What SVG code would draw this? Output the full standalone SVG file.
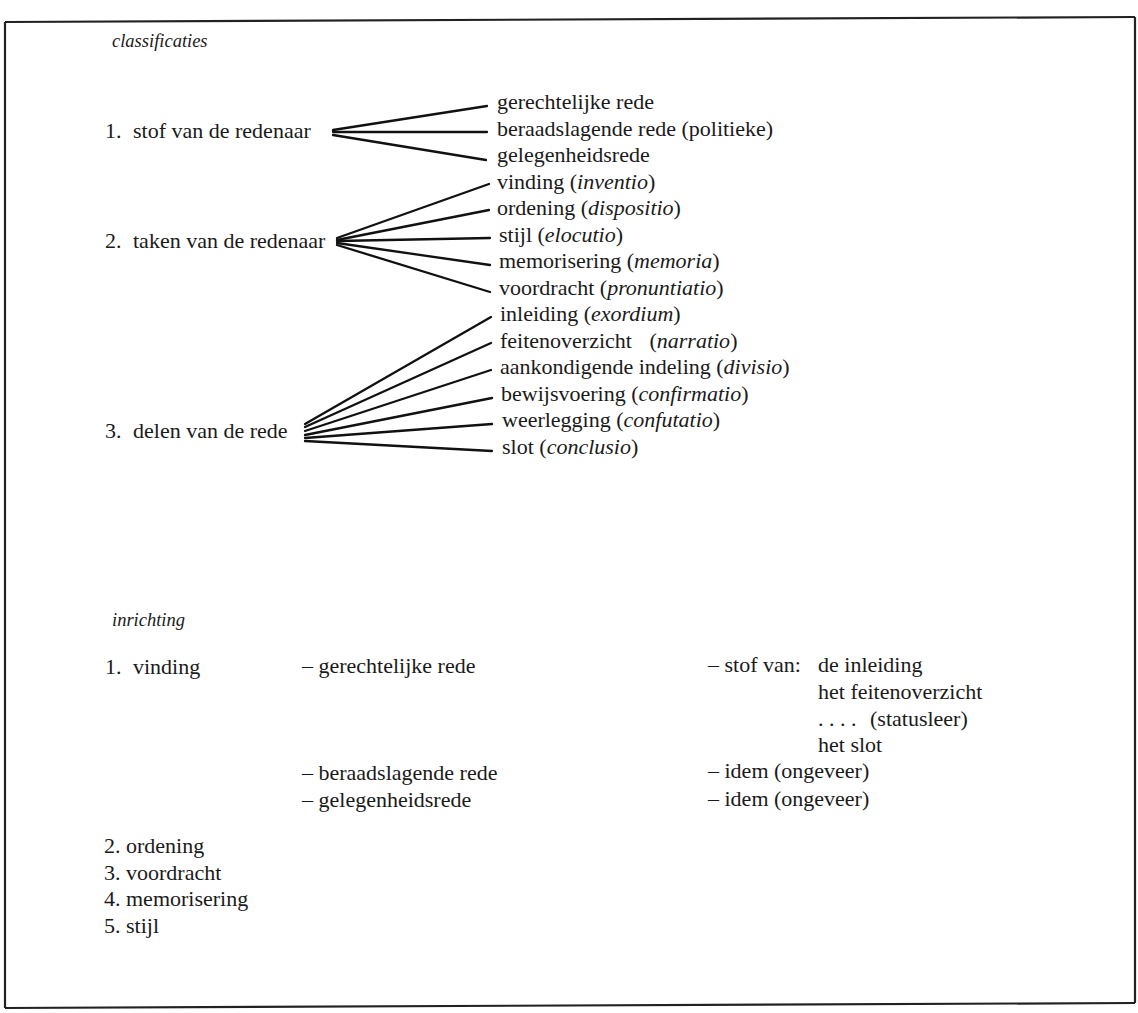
<svg xmlns="http://www.w3.org/2000/svg" width="1138" height="1013" viewBox="0 0 1138 1013">
<style>
text{font-family:"Liberation Serif","Times New Roman",serif;font-size:22px;fill:#1a1a1a}
.h{font-style:italic;font-size:18.5px}
.i{font-style:italic}
.c line{stroke:#111;stroke-width:2.3;stroke-linecap:round}
.frame{fill:none;stroke:#222;stroke-width:2.2}
</style>
<rect width="1138" height="1013" fill="#fff"/>
<g id="frame" class="frame">
<path d="M5,22 L1135,17"/>
<path d="M5,22 L5,1008"/>
<path d="M5,1008 L1135,1003"/>
<path d="M1135,17 L1135,1003"/>
</g>
<text id="h1" class="h" x="112" y="47">classificaties</text>
<g id="n1"><text x="105" y="138">1.</text><text x="133" y="138">stof van de redenaar</text></g>
<g id="n2"><text x="105" y="248">2.</text><text x="133" y="248">taken van de redenaar</text></g>
<g id="n3"><text x="105" y="438">3.</text><text x="133" y="438">delen van de rede</text></g>
<g id="r1"><text x="497" y="109">gerechtelijke rede</text></g>
<g id="r2"><text x="497" y="135.5">beraadslagende rede (politieke)</text></g>
<g id="r3"><text x="497" y="162">gelegenheidsrede</text></g>
<g id="r4"><text x="497" y="188.5">vinding (<tspan class="i">inventio</tspan>)</text></g>
<g id="r5"><text x="497" y="215">ordening (<tspan class="i">dispositio</tspan>)</text></g>
<g id="r6"><text x="499" y="241.5">stijl (<tspan class="i">elocutio</tspan>)</text></g>
<g id="r7"><text x="499" y="268">memorisering (<tspan class="i">memoria</tspan>)</text></g>
<g id="r8"><text x="499" y="294.5">voordracht (<tspan class="i">pronuntiatio</tspan>)</text></g>
<g id="r9"><text x="500" y="321">inleiding (<tspan class="i">exordium</tspan>)</text></g>
<g id="r10"><text x="500" y="347.5">feitenoverzicht <tspan dx="12">(</tspan><tspan class="i">narratio</tspan>)</text></g>
<g id="r11"><text x="500" y="374">aankondigende indeling (<tspan class="i">divisio</tspan>)</text></g>
<g id="r12"><text x="501" y="400.5">bewijsvoering (<tspan class="i">confirmatio</tspan>)</text></g>
<g id="r13"><text x="502" y="427">weerlegging (<tspan class="i">confutatio</tspan>)</text></g>
<g id="r14"><text x="502" y="453.5">slot (<tspan class="i">conclusio</tspan>)</text></g>
<g id="connectors" class="c">
<line x1="333" y1="130" x2="487" y2="106"/>
<line x1="333" y1="132" x2="487" y2="132"/>
<line x1="333" y1="135" x2="486" y2="160"/>
<line x1="337" y1="238" x2="489" y2="184"/>
<line x1="337" y1="240" x2="489" y2="210"/>
<line x1="337" y1="241" x2="490" y2="238"/>
<line x1="337" y1="243" x2="490" y2="265"/>
<line x1="337" y1="245" x2="490" y2="292"/>
<line x1="305" y1="424" x2="491" y2="317"/>
<line x1="305" y1="427" x2="491" y2="343"/>
<line x1="305" y1="431" x2="491" y2="370"/>
<line x1="305" y1="435" x2="492" y2="398"/>
<line x1="305" y1="438" x2="492" y2="424"/>
<line x1="305" y1="441" x2="492" y2="451"/>
</g>
<text id="h2" class="h" x="112" y="626">inrichting</text>
<g id="v1"><text x="105" y="674">1.</text><text x="133" y="674">vinding</text></g>
<g id="v1a"><text x="302" y="673">– gerechtelijke rede</text></g>
<g id="v1b"><text x="708" y="672">– stof van:</text><text x="818" y="672">de inleiding</text>
<text x="818" y="699">het feitenoverzicht</text>
<text x="818" y="726">. . . . <tspan dx="8">(statusleer)</tspan></text>
<text x="818" y="752">het slot</text></g>
<g id="v1c"><text x="302" y="780">– beraadslagende rede</text></g>
<g id="v1d"><text x="708" y="778">– idem (ongeveer)</text></g>
<g id="v1e"><text x="302" y="807">– gelegenheidsrede</text></g>
<g id="v1f"><text x="708" y="806">– idem (ongeveer)</text></g>
<g id="v2"><text x="104" y="853">2.</text><text x="126" y="853">ordening</text></g>
<g id="v3"><text x="104" y="880">3.</text><text x="126" y="880">voordracht</text></g>
<g id="v4"><text x="104" y="906">4.</text><text x="126" y="906">memorisering</text></g>
<g id="v5"><text x="104" y="933">5.</text><text x="126" y="933">stijl</text></g>
</svg>
